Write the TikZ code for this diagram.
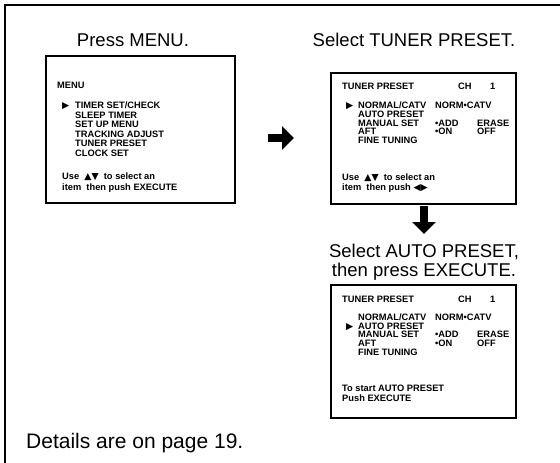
\documentclass[tikz,border=0pt]{standalone}
\usepackage{fontspec}
\setmainfont{Liberation Sans}
\newfontfamily\symf{DejaVu Sans}
\usetikzlibrary{arrows.meta}
\begin{document}
\begin{tikzpicture}[x=1pt,y=-1pt,
  title/.style={font=\fontsize{18.5}{18}\selectfont, inner sep=0},
  scr/.style={draw, line width=1.5pt, inner sep=0},
  st/.style={font=\fontsize{9.3}{9}\selectfont\bfseries, anchor=base west, inner sep=0},
  blockarr/.style={line width=7.5pt, -{Triangle[width=23pt,length=12pt]}}]
\useasboundingbox (0,0) rectangle (560,463);
\draw[line width=1.3pt] (5,463) -- (5,5) -- (560,5);

% titles
\node[title] (t1) at (133,40) {Press MENU.};
\node[title] (t2) at (414,40) {Select TUNER PRESET.};
\node[title, align=center, font=\fontsize{18.5}{18.5}\selectfont] (t3) at (424,262) {Select AUTO PRESET,\\then press EXECUTE.};
\node[title, anchor=west, font=\fontsize{21}{21}\selectfont] (t4) at (26,443) {Details are on page 19.};

% screens
\node[scr, minimum width=189pt, minimum height=147pt, anchor=north west] (menu) at (45,55) {};
\node[scr, minimum width=185pt, minimum height=131pt, anchor=north west] (tp) at (330,72) {};
\node[scr, minimum width=185pt, minimum height=133pt, anchor=north west] (ap) at (330,284) {};

% menu screen text
\node[st] (m0) at (57,88.5) {MENU};
\node[st] (m1a) at (62,108.5) {\symf ▶};
\node[st] (m1) at (75,108.5) {TIMER SET/CHECK};
\node[st] (m2) at (75,118) {SLEEP TIMER};
\node[st] (m3) at (75,127.5) {SET UP MENU};
\node[st] (m4) at (75,137) {TRACKING ADJUST};
\node[st] (m5) at (75,146.5) {TUNER PRESET};
\node[st] (m6) at (75,156) {CLOCK SET};
\node[st] (m7) at (62,179.5) {Use \ {\symf ▲▼} \ to select an};
\node[st] (m8) at (62,190.5) {item \ then push EXECUTE};

% tuner preset screen
\node[st] (a0) at (342,89.5) {TUNER PRESET};
\node[st] (a0b) at (458,89.5) {CH};
\node[st] (a0c) at (490,89.5) {1};
\node[st] (a1a) at (346,108.5) {\symf ▶};
\node[st] (a1) at (358,108.5) {NORMAL/CATV};
\node[st] (a1b) at (435,108.5) {NORM•CATV};
\node[st] (a2) at (358,117.3) {AUTO PRESET};
\node[st] (a3) at (358,126.1) {MANUAL SET};
\node[st] (a3b) at (435,126.1) {•ADD};
\node[st] (a3c) at (477,126.1) {ERASE};
\node[st] (a4) at (358,134.9) {AFT};
\node[st] (a4b) at (435,134.9) {•ON};
\node[st] (a4c) at (477,134.9) {OFF};
\node[st] (a5) at (358,143.7) {FINE TUNING};
\node[st] (a6) at (342,180.5) {Use \ {\symf ▲▼} \ to select an};
\node[st] (a7) at (342,190.5) {item \ then push {\symf ◀▶}};

% auto preset screen
\node[st] (b0) at (342,302) {TUNER PRESET};
\node[st] (b0b) at (458,302) {CH};
\node[st] (b0c) at (490,302) {1};
\node[st] (b1) at (358,320.5) {NORMAL/CATV};
\node[st] (b1b) at (435,320.5) {NORM•CATV};
\node[st] (b2a) at (346,329.2) {\symf ▶};
\node[st] (b2) at (358,329.2) {AUTO PRESET};
\node[st] (b3) at (358,337.9) {MANUAL SET};
\node[st] (b3b) at (435,337.9) {•ADD};
\node[st] (b3c) at (477,337.9) {ERASE};
\node[st] (b4) at (358,346.6) {AFT};
\node[st] (b4b) at (435,346.6) {•ON};
\node[st] (b4c) at (477,346.6) {OFF};
\node[st] (b5) at (358,355.3) {FINE TUNING};
\node[st] (b6) at (342,391.5) {To start AUTO PRESET};
\node[st] (b7) at (342,401) {Push EXECUTE};

% arrows
\coordinate (r1) at (268,138);
\coordinate (r2) at (294,138);
\draw[blockarr] (r1) -- (r2);
\coordinate (d1) at (424,206);
\coordinate (d2) at (424,234);
\draw[blockarr] (d1) -- (d2);
\end{tikzpicture}
\end{document}
